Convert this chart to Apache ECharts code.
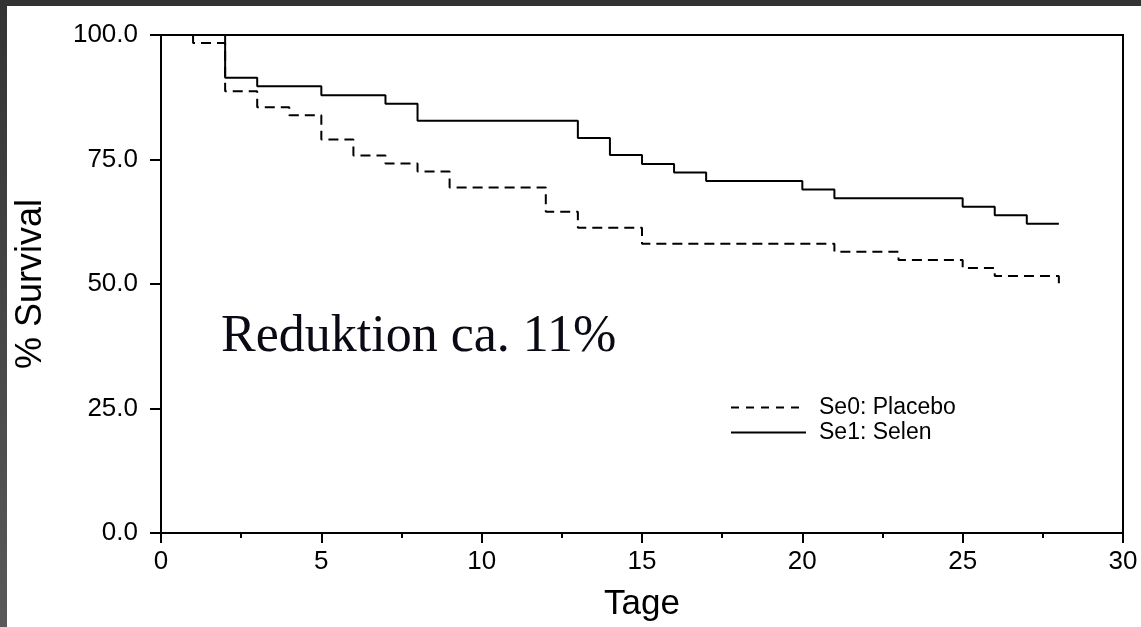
<!DOCTYPE html>
<html>
<head>
<meta charset="utf-8">
<script src="https://cdn.jsdelivr.net/npm/echarts@6/dist/echarts.min.js"></script>
<style>
html,body{margin:0;padding:0;background:#fff;}
#chart{width:1141px;height:627px;}
</style>
</head>
<body>
<div id="chart"></div>
<script>
// Kaplan-Meier survival estimates (day, % survival)
const placeboDays   = [0, 1, 2, 3, 4, 5, 6, 7, 8, 9, 12, 13, 15, 21, 23, 25, 26, 28];
const placeboValues = [100, 98.4, 88.7, 85.5, 83.9, 79.0, 75.8, 74.2, 72.6, 69.4, 64.5, 61.3, 58.1, 56.5, 54.8, 53.2, 51.6, 50.0];
const selenDays     = [0, 2, 3, 5, 7, 8, 13, 14, 15, 16, 17, 20, 21, 25, 26, 27, 28];
const selenValues   = [100, 91.4, 89.7, 87.9, 86.2, 82.8, 79.3, 75.9, 74.1, 72.4, 70.7, 69.0, 67.2, 65.5, 63.8, 62.1, 62.1];
const seriesNames   = ['Se0: Placebo', 'Se1: Selen'];
const xAxisTitle    = 'Tage';
const yAxisTitle    = '% Survival';
const annotation    = 'Reduktion ca. 11%';

const pair = (xs, ys) => xs.map((x, i) => [x, ys[i]]);

const chart = echarts.init(document.getElementById('chart'), null, {renderer: 'canvas'});
const sans = 'Liberation Sans, Arial, sans-serif';

chart.setOption({
  animation: false,
  backgroundColor: '#ffffff',
  grid: {
    left: 161, right: 18, top: 35, bottom: 92,
    show: true, borderColor: '#000', borderWidth: 2, backgroundColor: 'transparent'
  },
  xAxis: {
    type: 'value', min: 0, max: 30, interval: 5,
    name: xAxisTitle, nameLocation: 'middle', nameGap: 54,
    nameTextStyle: {fontFamily: sans, fontSize: 35, color: '#000'},
    axisLine: {show: true, lineStyle: {color: '#000', width: 2}},
    axisTick: {show: true, length: 10, lineStyle: {color: '#000', width: 2}},
    minorTick: {show: true, splitNumber: 2, length: 5, lineStyle: {color: '#000', width: 2}},
    axisLabel: {fontFamily: sans, fontSize: 26, color: '#000', margin: 16},
    splitLine: {show: false}, minorSplitLine: {show: false}
  },
  yAxis: {
    type: 'value', min: 0, max: 100, interval: 25,
    name: yAxisTitle, nameLocation: 'middle', nameGap: 112, nameRotate: 90,
    nameTextStyle: {fontFamily: sans, fontSize: 36, color: '#000'},
    axisLine: {show: true, lineStyle: {color: '#000', width: 2}},
    axisTick: {show: true, length: 11, lineStyle: {color: '#000', width: 2}},
    axisLabel: {fontFamily: sans, fontSize: 26, color: '#000', margin: 23,
      formatter: v => v.toFixed(1)},
    splitLine: {show: false}
  },
  legend: {
    orient: 'vertical', left: 725, top: 391,
    itemWidth: 75, itemHeight: 14, itemGap: 2,
    itemStyle: {color: 'rgba(0,0,0,0)', borderWidth: 0, opacity: 0},
    textStyle: {fontFamily: sans, fontSize: 23, color: '#000', padding: [0, 0, 0, 8]},
    data: [
      {name: seriesNames[0], lineStyle: {type: [8, 7], width: 2, color: '#000', opacity: 1}},
      {name: seriesNames[1], lineStyle: {type: 'solid', width: 2, color: '#000', opacity: 1}}
    ]
  },
  graphic: [
    {type: 'rect', left: 0, top: 0, silent: true, z: 100,
      shape: {width: 1141, height: 6}, style: {fill: '#333333'}},
    {type: 'rect', left: 0, top: 0, silent: true, z: 100,
      shape: {width: 7, height: 627},
      style: {fill: new echarts.graphic.LinearGradient(0, 0, 0, 1, [
        {offset: 0, color: '#333333'}, {offset: 1, color: '#595959'}])}},
    {type: 'text', left: 221, top: 311, silent: true, z: 50,
      style: {text: annotation, font: '52px "Liberation Serif", "Times New Roman", serif', fill: '#0a0a14'}}
  ],
  series: [
    {
      name: seriesNames[0], type: 'line', step: 'end', symbol: 'none',
      data: pair(placeboDays, placeboValues),
      lineStyle: {color: '#000', width: 2, type: [10, 6]},
      itemStyle: {color: '#000'}
    },
    {
      name: seriesNames[1], type: 'line', step: 'end', symbol: 'none',
      data: pair(selenDays, selenValues),
      lineStyle: {color: '#000', width: 2, type: 'solid'},
      itemStyle: {color: '#000'}
    }
  ]
});
</script>
</body>
</html>
